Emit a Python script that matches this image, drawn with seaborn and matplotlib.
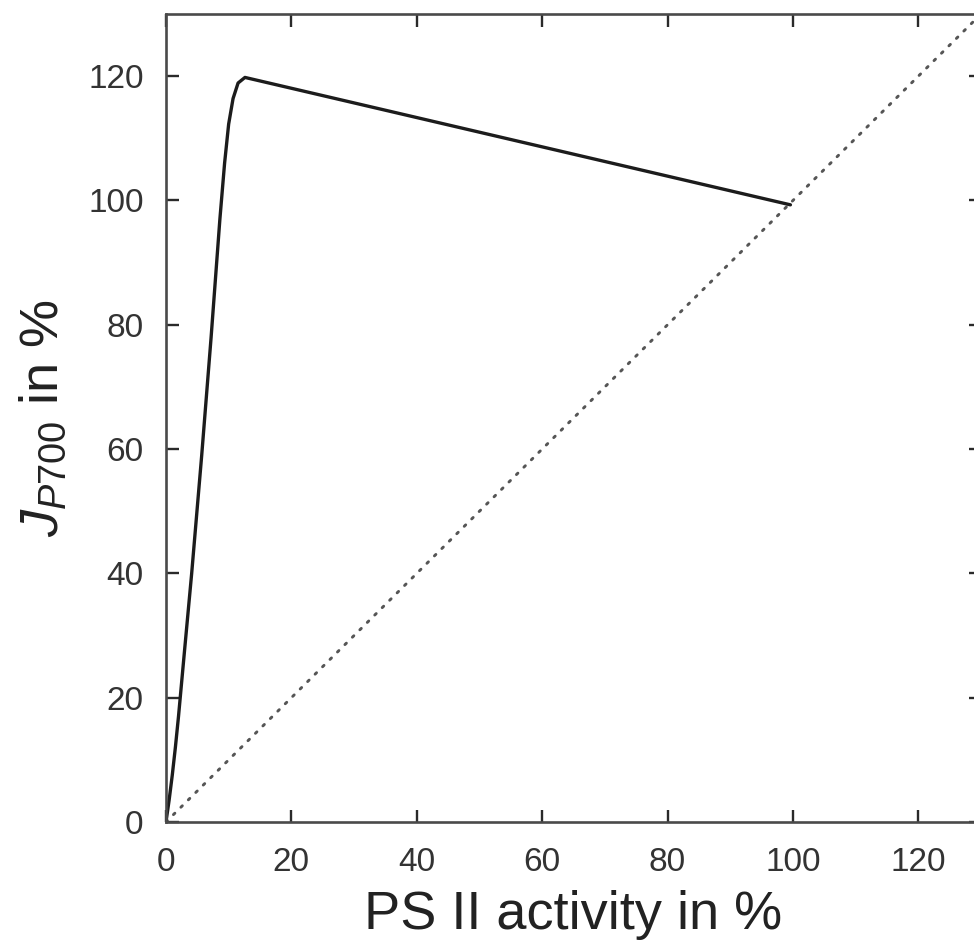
import matplotlib
matplotlib.use("Agg")
import matplotlib.pyplot as plt
import seaborn as sns
import pandas as pd

# Electron flux through P700 versus remaining PS II activity
psii_activity = [0, 0.5, 1.0, 1.5, 2.0, 3.0, 4.1, 5.7, 7.2, 8.6, 9.35, 10.0,
                 10.7, 11.5, 12.6, 99.6]
j_p700 = [0, 3.5, 7.5, 12, 17, 28, 40, 59, 78, 97, 106, 112.3,
          116.4, 118.9, 119.8, 99.3]

# Reference diagonal (J_P700 equal to PS II activity)
diag_x = [0, 130]
diag_y = [0, 130]

ticks = [0, 20, 40, 60, 80, 100, 120]
tick_labels = ["0", "20", "40", "60", "80", "100", "120"]

sns.set_theme(style="ticks")
plt.rcParams["font.family"] = ["Liberation Sans", "DejaVu Sans"]
plt.rcParams["mathtext.fontset"] = "custom"
plt.rcParams["mathtext.rm"] = "Liberation Sans"
plt.rcParams["mathtext.it"] = "Liberation Sans:italic"

curve = pd.DataFrame({"x": psii_activity, "y": j_p700})
diag = pd.DataFrame({"x": diag_x, "y": diag_y})

fig = plt.figure(figsize=(9.74, 9.48), dpi=100)
ax = fig.add_axes([0.1704, 0.1329, 0.8368, 0.8523])

sns.lineplot(data=diag, x="x", y="y", ax=ax, sort=False, color="#555555",
             linewidth=2.1, linestyle=(0, (0.7, 2.9)), dash_capstyle="round")
sns.lineplot(data=curve, x="x", y="y", ax=ax, sort=False, color="#1c1c1c",
             linewidth=2.4)

ax.set_xlim(0, 130)
ax.set_ylim(0, 130)
ax.set_xticks(ticks)
ax.set_xticklabels(tick_labels)
ax.set_yticks(ticks)
ax.set_yticklabels(tick_labels)

for side in ["left", "right", "top", "bottom"]:
    ax.spines[side].set_visible(True)
    ax.spines[side].set_color("#4a4a4a")
    ax.spines[side].set_linewidth(1.9)

ax.tick_params(axis="both", which="major", direction="in", length=9, width=1.7,
               color="#2a2a2a", labelsize=24, labelcolor="#333333",
               top=True, right=True)
ax.tick_params(axis="x", pad=18)
ax.tick_params(axis="y", pad=16)

ax.set_xlabel("PS II activity in %", fontsize=39, color="#222222")
ax.set_ylabel(r"$J_{P700}$ in %", fontsize=39, color="#222222")
ax.xaxis.set_label_coords(0.5, -0.084)
ax.yaxis.set_label_coords(-0.119, 0.5)

fig.savefig("out.png", dpi=100)
